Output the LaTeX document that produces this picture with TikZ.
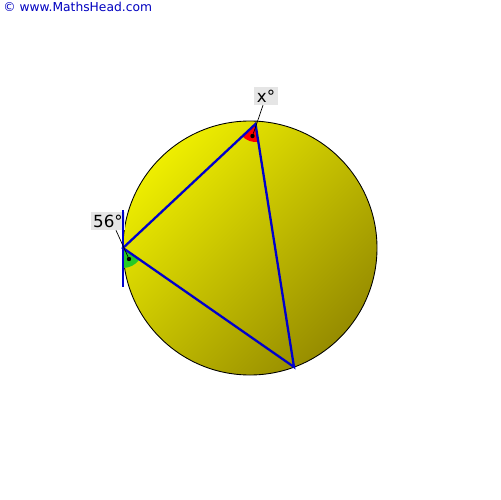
\documentclass[tikz,border=0pt]{standalone}
\usepackage{fontspec}
\setmainfont{DejaVu Sans}
\begin{document}
\begin{tikzpicture}[x=0.02cm,y=-0.02cm,
  chord/.style={draw=blue!80!black,line width=1.3pt},
  lbl/.style={fill=black!10,inner sep=1.5pt,font=\fontsize{9.5}{11}\selectfont},
  ptr/.style={draw=black,line width=0.4pt},
  dotm/.style={circle,fill=black,inner sep=0pt,minimum size=2.5pt}]
\useasboundingbox (0,0) rectangle (500,500);
\node[anchor=north west,inner sep=0pt,text=blue!75!black,font=\fontsize{7}{8}\selectfont] (cr) at (3,2) {© www.MathsHead.com};
\coordinate (O) at (250,248);
\shade[top color={rgb,255:red,238;green,238;blue,0},bottom color={rgb,255:red,150;green,140;blue,0},shading angle=45] (O) circle (127);
\draw[line width=0.5pt] (O) circle (127);
\coordinate (A) at (255.5,124);
\coordinate (B) at (123,248);
\coordinate (C) at (294,367);
% labels first
\node[lbl] (lx) at (266,96) {x°};
\node[lbl] (l56) at (108,221) {56°};
% sectors
\fill[red] (A) -- ++(81:18) arc[start angle=81,end angle=136.9,radius=18] -- cycle;
\fill[green!75!black!85] (B) -- ++(34.8:20) arc[start angle=34.8,end angle=90,radius=20] -- cycle;
\draw[chord] (A) -- (B) -- (C) -- cycle;
\draw[chord,line width=1.6pt] (123,210) -- (123,287);
\node[dotm] (da) at (252.5,136) {};
\node[dotm] (db) at (129,259) {};
\draw[ptr] (lx.south) ++(-3,0) -- (da);
\draw[ptr] (l56.south) ++(8,0) -- (db);
\end{tikzpicture}
\end{document}
